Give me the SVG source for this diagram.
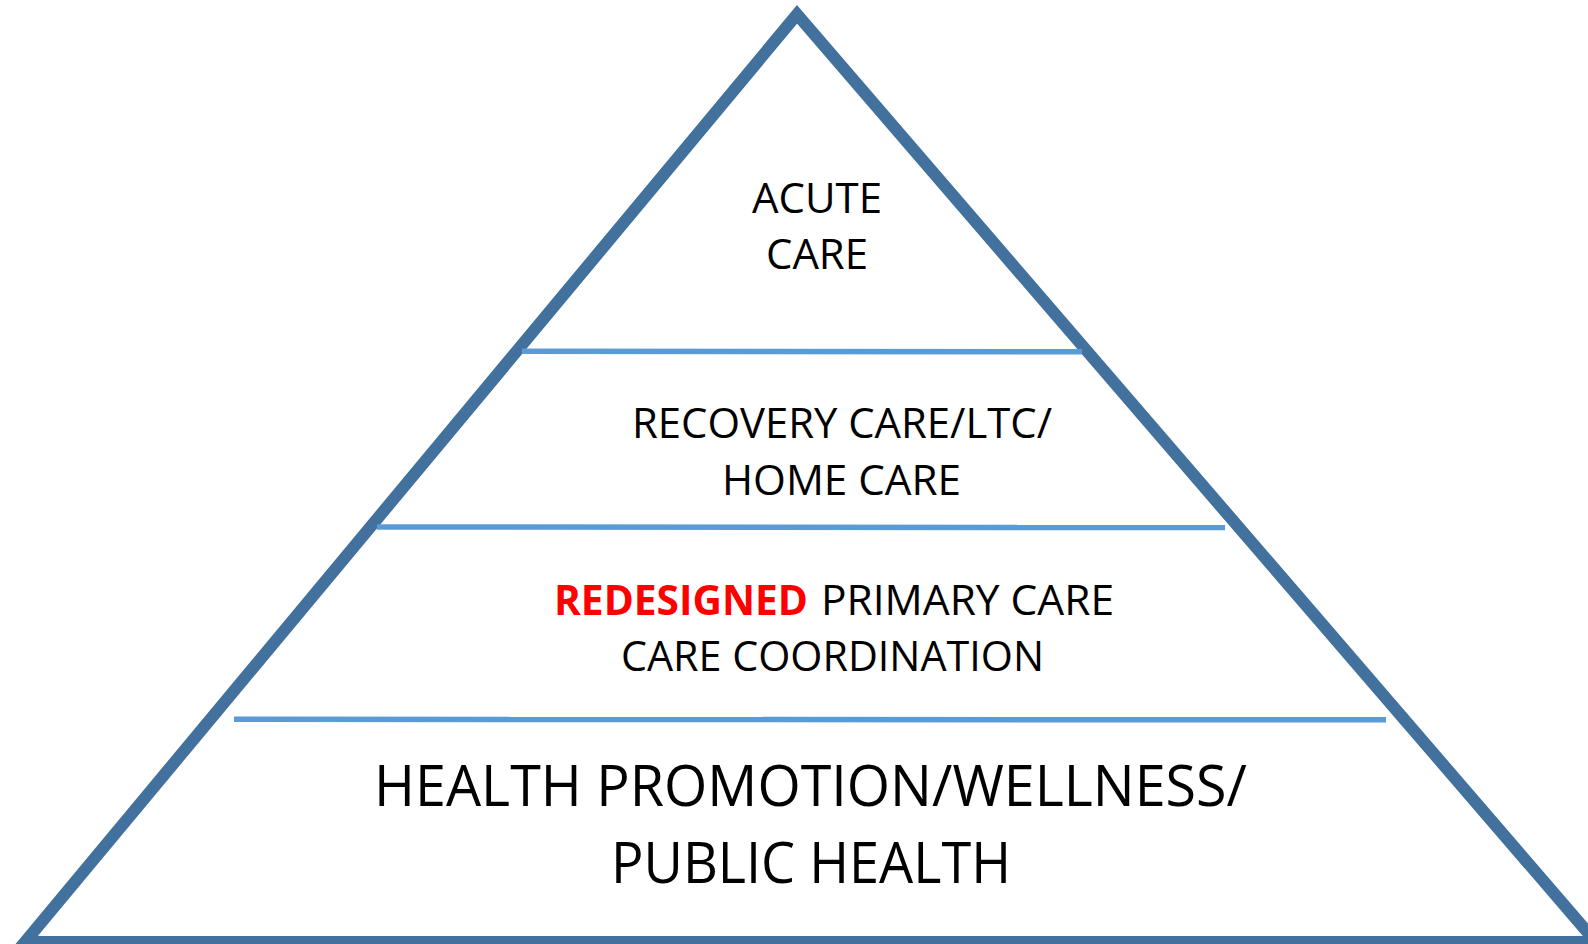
<svg xmlns="http://www.w3.org/2000/svg" width="1588" height="944" viewBox="0 0 1588 944">
<style>
.t{font-family:"Open Sans","Liberation Sans",sans-serif;fill:#000;}
.s{font-size:42px;}
.b{font-size:57px;}
.red{fill:#FF0000;font-weight:bold;}
.tier{stroke:#5B9BD5;stroke-width:5.5;fill:none;}
</style>
<rect width="1588" height="944" fill="#fff"/>
<g id="pyramid">
<polygon points="797,14.4 25,942 1596,942" fill="none" stroke="#41719C" stroke-width="12" stroke-linejoin="miter"/>
</g>
<g id="connectors">
<line class="tier" x1="522" y1="351.3" x2="1082" y2="351.7"/>
<line class="tier" x1="377" y1="527" x2="1225" y2="527.5"/>
<line class="tier" x1="234" y1="719.3" x2="1386" y2="719.8"/>
</g>
<g id="acute-care">
<text class="t s" x="752" y="213" textLength="130" lengthAdjust="spacingAndGlyphs">ACUTE</text>
<text class="t s" x="766" y="269" textLength="102" lengthAdjust="spacingAndGlyphs">CARE</text>
</g>
<g id="recovery-care">
<text class="t s" x="632" y="438" textLength="420" lengthAdjust="spacingAndGlyphs">RECOVERY CARE/LTC/</text>
<text class="t s" x="722" y="495" textLength="239" lengthAdjust="spacingAndGlyphs">HOME CARE</text>
</g>
<g id="primary-care">
<text class="t s red" x="554" y="615" textLength="254" lengthAdjust="spacingAndGlyphs">REDESIGNED</text>
<text class="t s" x="821" y="615" textLength="293" lengthAdjust="spacingAndGlyphs">PRIMARY CARE</text>
<text class="t s" x="621" y="671" textLength="423" lengthAdjust="spacingAndGlyphs">CARE COORDINATION</text>
</g>
<g id="health-promotion">
<text class="t b" x="374" y="806" textLength="873" lengthAdjust="spacingAndGlyphs">HEALTH PROMOTION/WELLNESS/</text>
<text class="t b" x="611" y="883" textLength="400" lengthAdjust="spacingAndGlyphs">PUBLIC HEALTH</text>
</g>
</svg>
